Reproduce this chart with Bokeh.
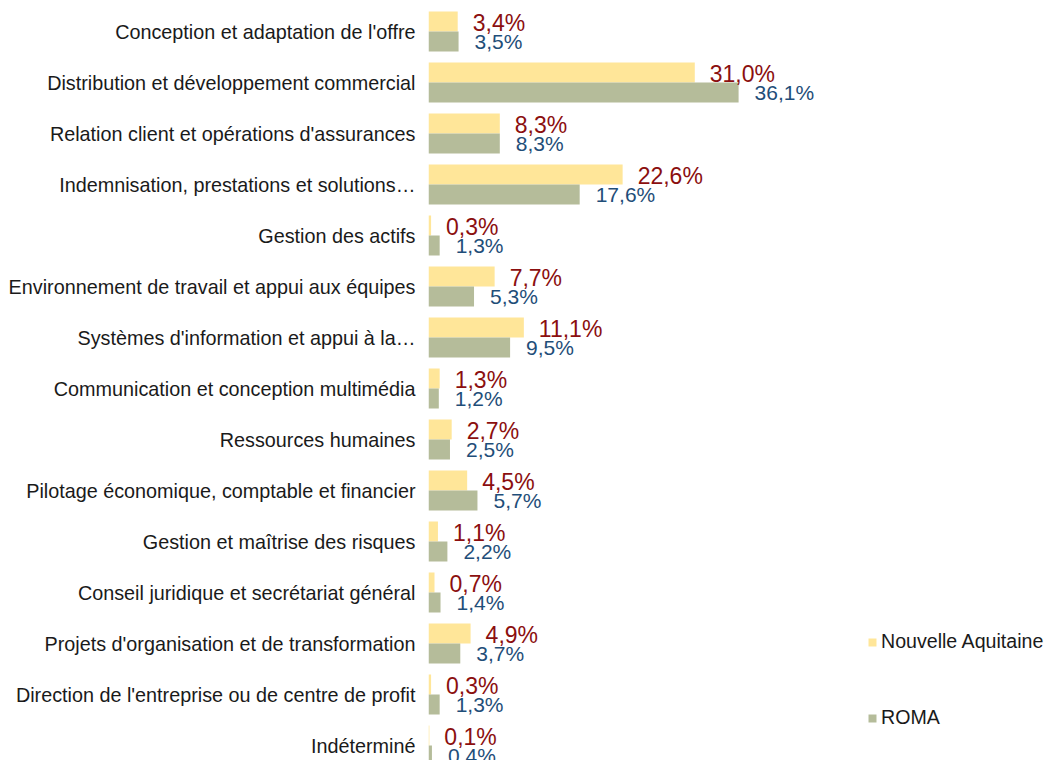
from bokeh.plotting import figure
from bokeh.models import ColumnDataSource, Range1d, FixedTicker, Legend, LegendItem
from bokeh.core.properties import value
from bokeh.embed import file_html
from bokeh.resources import INLINE

categories = [
    "Conception et adaptation de l'offre",
    "Distribution et développement commercial",
    "Relation client et opérations d'assurances",
    "Indemnisation, prestations et solutions…",
    "Gestion des actifs",
    "Environnement de travail et appui aux équipes",
    "Systèmes d'information et appui à la…",
    "Communication et conception multimédia",
    "Ressources humaines",
    "Pilotage économique, comptable et financier",
    "Gestion et maîtrise des risques",
    "Conseil juridique et secrétariat général",
    "Projets d'organisation et de transformation",
    "Direction de l'entreprise ou de centre de profit",
    "Indéterminé",
]
nouvelle_aquitaine = [3.4, 31.0, 8.3, 22.6, 0.3, 7.7, 11.1, 1.3, 2.7, 4.5, 1.1, 0.7, 4.9, 0.3, 0.1]
roma = [3.5, 36.1, 8.3, 17.6, 1.3, 5.3, 9.5, 1.2, 2.5, 5.7, 2.2, 1.4, 3.7, 1.3, 0.4]
series_names = ["Nouvelle Aquitaine", "ROMA"]

YELLOW = "#FFE699"
OLIVE = "#B5BC9A"
RED = "#8B0F0F"
BLUE = "#1F4E79"
FONT = "Liberation Sans"

ROW_PX = 51.0
BAR = 20.0 / ROW_PX

idx = list(range(len(categories)))

def fmt(v):
    return f"{v:.1f}".replace(".", ",") + "%"

src_na = ColumnDataSource(dict(
    y=[i - BAR / 2 for i in idx], x=nouvelle_aquitaine,
    lbl=[fmt(v) for v in nouvelle_aquitaine]))
src_ro = ColumnDataSource(dict(
    y=[i + BAR / 2 for i in idx], x=roma,
    lbl=[fmt(v) for v in roma]))

W, H = 1045, 760
LEFT = 428
top_val = -31.0 / ROW_PX
bot_val = top_val + H / ROW_PX
x_end = (W - LEFT) / 8.59

p = figure(width=W, height=H, output_backend="svg", toolbar_location=None,
           x_range=Range1d(0, x_end), y_range=Range1d(bot_val, top_val),
           min_border_left=LEFT, min_border_right=0, min_border_top=0,
           min_border_bottom=0)
p.outline_line_color = None
p.xgrid.visible = False
p.ygrid.visible = False
p.xaxis.visible = False

ax = p.yaxis[0]
ax.ticker = FixedTicker(ticks=idx)
ax.major_label_overrides = {i: c for i, c in enumerate(categories)}
ax.axis_line_color = None
ax.major_tick_line_color = None
ax.minor_tick_line_color = None
ax.major_tick_out = 0
ax.major_tick_in = 0
ax.major_label_standoff = 13
ax.major_label_text_font = FONT
ax.major_label_text_font_size = "19.8px"
ax.major_label_text_color = "#1a1a1a"

r_na = p.hbar(y="y", right="x", left=0, height=BAR, source=src_na,
              fill_color=YELLOW, line_color=None)
r_ro = p.hbar(y="y", right="x", left=0, height=BAR, source=src_ro,
              fill_color=OLIVE, line_color=None)

p.text(x="x", y="y", text="lbl", source=src_na, x_offset=15, y_offset=1,
       text_baseline="middle", text_align="left", text_color=RED,
       text_font=value(FONT), text_font_size="23px")
p.text(x="x", y="y", text="lbl", source=src_ro, x_offset=16, y_offset=0,
       text_baseline="middle", text_align="left", text_color=BLUE,
       text_font=value(FONT), text_font_size="21px")

legend = Legend(items=[LegendItem(label=series_names[0], renderers=[r_na]),
                       LegendItem(label=series_names[1], renderers=[r_ro])],
                location=(439, 31))
legend.glyph_width = 10
legend.glyph_height = 10
legend.label_standoff = 4
legend.spacing = 53
legend.padding = 0
legend.margin = 0
legend.border_line_color = None
legend.background_fill_alpha = 0
legend.label_text_font = FONT
legend.label_text_font_size = "19.6px"
legend.label_text_color = "#1a1a1a"
p.add_layout(legend)

open("out.html", "w").write(file_html(p, INLINE))
